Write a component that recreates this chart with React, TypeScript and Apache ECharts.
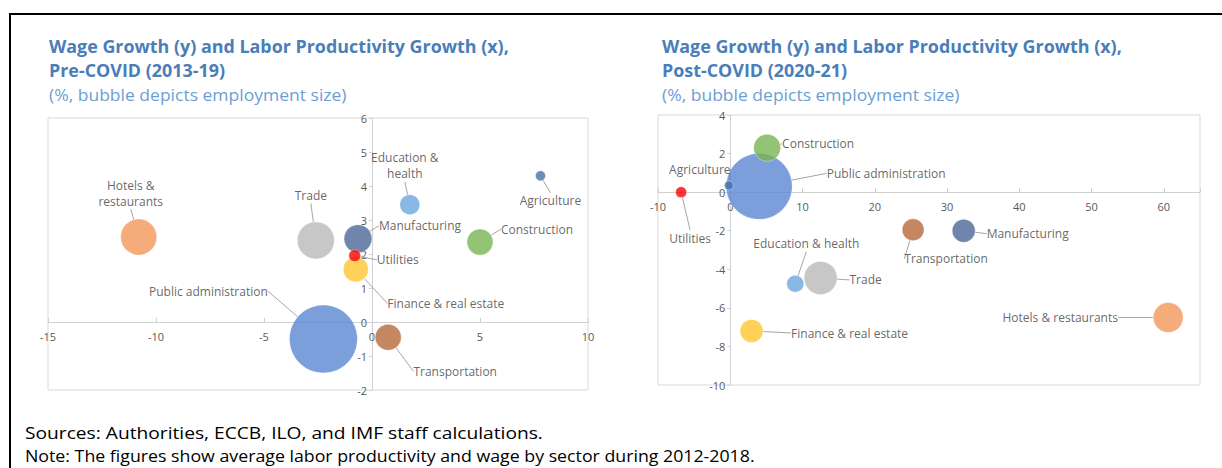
import React, { useEffect, useRef } from "react";
import * as echarts from "echarts";

// ---------- Data ----------
const sectors = [
  "Agriculture",
  "Construction",
  "Education & health",
  "Manufacturing",
  "Utilities",
  "Finance & real estate",
  "Trade",
  "Hotels & restaurants",
  "Public administration",
  "Transportation",
];

// Pre-COVID (2013-19): labor productivity growth (x), wage growth (y), employment (bubble)
const preX = [7.8, 5.0, 1.75, -0.65, -0.8, -0.75, -2.6, -10.8, -2.25, 0.75];
const preY = [4.3, 2.35, 3.45, 2.45, 1.95, 1.55, 2.4, 2.5, -0.5, -0.45];
const preEmployment = [1.0, 6.8, 4.0, 7.8, 1.4, 6.3, 13.7, 13.0, 46.2, 6.8];

// Post-COVID (2020-21)
const postX = [-0.2, 5.1, 9.0, 32.3, -6.8, 2.95, 12.5, 60.6, 4.0, 25.3];
const postY = [0.35, 2.3, -4.75, -2.0, 0.0, -7.2, -4.45, -6.5, 0.3, -1.95];
const postEmployment = [0.8, 7.3, 2.9, 5.3, 1.2, 5.3, 10.9, 9.0, 43.6, 4.8];

// Label texts
const preLabels = [
  "Agriculture",
  "Construction",
  "Education &\nhealth",
  "Manufacturing",
  "Utilities",
  "Finance & real estate",
  "Trade",
  "Hotels &\nrestaurants",
  "Public administration",
  "Transportation",
];
const postLabels = sectors;

// Axis ranges
const preXAxis = { min: -15, max: 10, interval: 5 };
const preYAxis = { min: -2, max: 6, interval: 1 };
const postXAxis = { min: -10, max: 65, interval: 10 };
const postYAxis = { min: -10, max: 4, interval: 2 };

const titleLine1 = "Wage Growth (y) and Labor Productivity Growth (x),";
const preTitle2 = "Pre-COVID (2013-19)";
const postTitle2 = "Post-COVID (2020-21)";
const subTitle = "(%, bubble depicts employment size)";
const sourceNote = "Sources: Authorities, ECCB, ILO, and IMF staff calculations.";
const figNote =
  "Note: The figures show average labor productivity and wage by sector during 2012-2018.";

// ---------- Styles / layout ----------
const sectorColors = [
  "#4670A8",
  "#78B452",
  "#6BA6DE",
  "#4B6796",
  "#FF0000",
  "#FFC52E",
  "#B9B9B9",
  "#F4965A",
  "#5B87D2",
  "#B5693A",
];

// label offsets (px) from bubble centre
const preLabelOffsets = [
  [10, 25],
  [57, -13],
  [-5, -39],
  [62, -13],
  [43, 4],
  [90, 34],
  [-5, -45],
  [-8, -44],
  [-115, -48],
  [67, 34],
];
const postLabelOffsets = [
  [-29, -16],
  [51, -4],
  [11, -40],
  [64, 3],
  [9, 46],
  [98, 2],
  [45, 2],
  [-108, 0],
  [127, -13],
  [33, 29],
];

const FONT = '"Open Sans", "Noto Sans", sans-serif';
const AXIS_COLOR = "#d0d0d0";
const TITLE_COLOR = "#4A7EB9";
const SUB_COLOR = "#6C9ED4";

const grids = [
  { left: 48, top: 118, width: 540, height: 272 },
  { left: 658, top: 115, width: 542, height: 270 },
];

function buildSeries(
  gridIdx: number,
  xs: number[],
  ys: number[],
  emp: number[],
  labels: string[],
  offsets: number[][]
) {
  const order = sectors
    .map((_, i) => i)
    .sort((a, b) => emp[b] - emp[a]);
  return {
    type: "scatter",
    xAxisIndex: gridIdx,
    yAxisIndex: gridIdx,
    symbol: "circle",
    symbolSize: (val: number[]) => 10 * Math.sqrt(val[2]),
    data: order.map((i) => ({
      name: sectors[i],
      value: [xs[i], ys[i], emp[i]],
      itemStyle: {
        color: sectorColors[i],
        borderColor: "rgba(255,255,255,0.45)",
        borderWidth: 1,
      },
      label: { formatter: labels[i] },
    })),
    label: {
      show: true,
      position: "inside",
      color: "#404040",
      fontSize: 12,
      fontFamily: FONT,
      lineHeight: 16,
      textBorderWidth: 0,
      align: "center",
      verticalAlign: "middle",
    },
    labelLine: {
      show: true,
      lineStyle: { color: "#a6a6a6", width: 1 },
    },
    labelLayout: (params: any) => {
      const idx = order[params.dataIndex];
      return { dx: offsets[idx][0], dy: offsets[idx][1] };
    },
    emphasis: { disabled: true },
  };
}

function xAxisOpt(gridIndex: number, r: any, yr: any) {
  const g = grids[gridIndex];
  // place the axis where y = 0
  const offset = -g.height * ((0 - yr.min) / (yr.max - yr.min));
  return {
    gridIndex,
    type: "value",
    position: "bottom",
    offset,
    min: r.min,
    max: r.max,
    interval: r.interval,
    axisLine: { onZero: false, lineStyle: { color: AXIS_COLOR } },
    axisTick: { show: true, inside: true, length: 4, lineStyle: { color: AXIS_COLOR } },
    axisLabel: {
      color: "#595959",
      fontSize: 11,
      fontFamily: FONT,
      margin: 9,
      formatter: (v: number) =>
        Math.abs(((v - r.min) % r.interval)) < 1e-9 ? String(v) : "",
    },
    splitLine: { show: false },
  };
}

function yAxisOpt(gridIndex: number, r: any, xr: any) {
  const g = grids[gridIndex];
  // place the axis where x = 0
  const offset = -g.width * ((0 - xr.min) / (xr.max - xr.min));
  return {
    gridIndex,
    type: "value",
    position: "left",
    offset,
    min: r.min,
    max: r.max,
    interval: r.interval,
    axisLine: { onZero: false, lineStyle: { color: AXIS_COLOR } },
    axisTick: { show: true, inside: false, length: 3, lineStyle: { color: AXIS_COLOR } },
    axisLabel: {
      color: "#595959",
      fontSize: 11,
      fontFamily: FONT,
      margin: 5,
    },
    splitLine: { show: false },
  };
}

function text(
  str: string,
  x: number,
  y: number,
  size: number,
  color: string,
  bold: boolean,
  scaleX: number
) {
  return {
    type: "text",
    silent: true,
    x,
    y,
    scaleX,
    style: {
      text: str,
      fill: color,
      fontSize: size,
      fontWeight: bold ? "bold" : "normal",
      fontFamily: FONT,
      verticalAlign: "middle",
    },
  };
}

export default function App() {
  const ref = useRef<HTMLDivElement>(null);
  useEffect(() => {
    if (!ref.current) return;
    const chart = echarts.init(ref.current, undefined, { renderer: "svg" });
    chart.setOption({
      animation: false,
      backgroundColor: "#ffffff",
      textStyle: { fontFamily: FONT },
      grid: grids.map((g) => ({
        ...g,
        show: true,
        borderColor: "#d9d9d9",
        borderWidth: 1,
        backgroundColor: "transparent",
        outerBoundsMode: "none",
      })),
      xAxis: [xAxisOpt(0, preXAxis, preYAxis), xAxisOpt(1, postXAxis, postYAxis)],
      yAxis: [yAxisOpt(0, preYAxis, preXAxis), yAxisOpt(1, postYAxis, postXAxis)],
      series: [
        buildSeries(0, preX, preY, preEmployment, preLabels, preLabelOffsets),
        buildSeries(1, postX, postY, postEmployment, postLabels, postLabelOffsets),
      ],
      graphic: [
        {
          type: "line",
          silent: true,
          shape: { x1: 9, y1: 14, x2: 1222, y2: 14 },
          style: { stroke: "#000000", lineWidth: 2 },
        },
        {
          type: "line",
          silent: true,
          shape: { x1: 10, y1: 13, x2: 10, y2: 468 },
          style: { stroke: "#000000", lineWidth: 2 },
        },
        text(titleLine1, 49, 46, 17, TITLE_COLOR, true, 1.053),
        text(preTitle2, 49, 70, 17, TITLE_COLOR, true, 1.053),
        text(subTitle, 49, 95, 17, SUB_COLOR, false, 1.03),
        text(titleLine1, 662, 46, 17, TITLE_COLOR, true, 1.053),
        text(postTitle2, 662, 70, 17, TITLE_COLOR, true, 1.053),
        text(subTitle, 662, 95, 17, SUB_COLOR, false, 1.03),
        text(sourceNote, 25, 433, 16, "#000000", false, 1.2),
        text(figNote, 25, 456, 16, "#000000", false, 1.11),
      ],
    });
    return () => chart.dispose();
  }, []);
  return (
    <div
      ref={ref}
      style={{ position: "absolute", left: 0, top: 0, width: 1222, height: 468 }}
    />
  );
}
